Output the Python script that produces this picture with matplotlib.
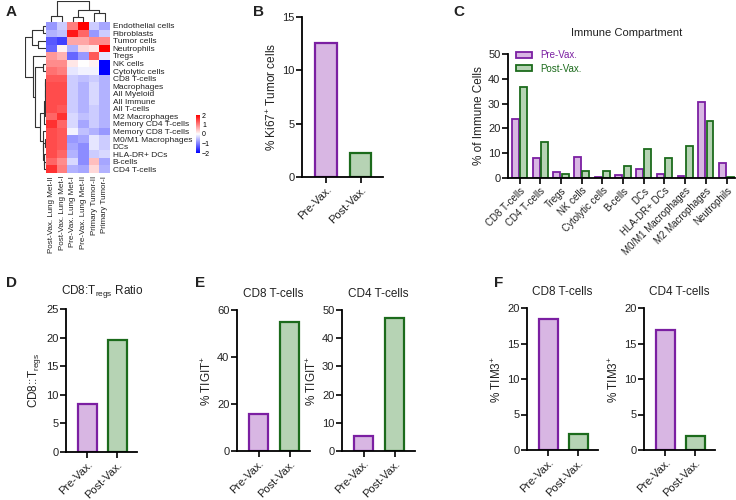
import numpy as np
import matplotlib.pyplot as plt
from matplotlib.colors import LinearSegmentedColormap
from matplotlib.patches import Patch

plt.rcParams['font.family'] = ['Liberation Sans', 'DejaVu Sans']
plt.rcParams['mathtext.default'] = 'regular'

W, H = 736, 500
PURPLE = '#7b1fa2'
PURPLE_FILL = '#d8b6e3'
GREEN = '#1c6b1c'
GREEN_FILL = '#b6d3b4'
TXT = '#222222'

# ---- panel A: heatmap (z-scores) ----
hm_rows = ['Endothelial cells', 'Fibroblasts', 'Tumor cells', 'Neutrophils', 'Tregs',
           'NK cells', 'Cytolytic cells', 'CD8 T-cells', 'Macrophages', 'All Myeloid',
           'All Immune', 'All T-cells', 'M2 Macrophages', 'Memory CD4 T-cells',
           'Memory CD8 T-cells', 'M0/M1 Macrophages', 'DCs', 'HLA-DR+ DCs', 'B-cells',
           'CD4 T-cells']
hm_cols = ['Post-Vax. Lung Met-II', 'Post-Vax. Lung Met-I', 'Pre-Vax. Lung Met-I',
           'Pre-Vax. Lung Met-II', 'Primary Tumor-II', 'Primary Tumor-I']
hm_values = [
    [-0.8, -0.4, 1.0, 2.0, -0.4, -0.7],
    [-0.6, -0.5, 1.8, 1.2, -0.8, -0.4],
    [-1.3, -1.5, 0.7, 0.7, 0.9, 0.9],
    [-1.2, 0.1, -0.6, 0.3, 0.2, 2.0],
    [0.8, 0.6, -1.2, -0.8, 1.3, -0.2],
    [0.9, 0.9, 0.2, 0.0, 0.1, -2.0],
    [1.1, 1.0, -0.2, -0.1, -0.1, -2.0],
    [1.3, 1.3, -0.4, -0.5, -0.4, -0.6],
    [1.4, 1.4, -0.4, -0.6, -0.3, -0.6],
    [1.4, 1.4, -0.4, -0.6, -0.3, -0.6],
    [1.4, 1.4, -0.4, -0.6, -0.3, -0.6],
    [1.4, 1.3, -0.4, -0.6, -0.4, -0.6],
    [1.2, 1.6, -0.3, -0.5, -0.4, -0.6],
    [1.6, 1.2, -0.3, -0.7, -0.4, -0.6],
    [1.4, 1.3, -0.1, -0.5, -0.6, -0.8],
    [1.4, 1.3, -0.8, -0.7, -0.2, -0.4],
    [1.4, 1.3, -0.7, -0.9, -0.2, -0.4],
    [1.4, 1.2, -0.6, -0.9, -0.4, -0.3],
    [1.2, 0.9, -0.3, -0.9, 0.5, -0.7],
    [1.6, 1.0, -0.6, -0.7, 0.3, -0.6],
]
# dendrograms as nested (left, right, height); leaves are row/column indices
col_tree = ((0, 1, 0.29), ((2, 3, 0.25), (4, 5, 0.45), 0.57), 1.0)
row_big_a = (((((7, 8, 0.03), (9, 10, 0.02), 0.05), (11, 12, 0.04), 0.07), 13, 0.1))
row_big_b = (14, ((15, 16, 0.05), (17, (18, 19, 0.08), 0.1), 0.13), 0.16)
row_tree = (((0, 1, 0.14), (2, 3, 0.38), 0.67),
            (4, ((5, 6, 0.14), (row_big_a, row_big_b, 0.28), 0.52), 0.62), 1.0)

# ---- panel B ----
groups = ['Pre-Vax.', 'Post-Vax.']
ki67 = [12.6, 2.25]

# ---- panel C ----
immune_cats = ['CD8 T-cells', 'CD4 T-cells', 'Tregs', 'NK cells', 'Cytolytic cells',
               'B-cells', 'DCs', 'HLA-DR+ DCs', 'M0/M1 Macrophages', 'M2 Macrophages',
               'Neutrophils']
immune_pre = [23.7, 8.2, 2.6, 8.3, 0.4, 1.3, 3.7, 1.7, 0.9, 30.7, 6.0]
immune_post = [36.5, 14.4, 1.8, 3.0, 2.9, 5.0, 11.5, 8.0, 12.8, 23.0, 0.6]

# ---- panels D, E, F ----
cd8_treg_ratio = [8.4, 19.6]
tigit_cd8 = [15.8, 54.8]
tigit_cd4 = [5.2, 47.0]
tim3_cd8 = [18.4, 2.3]
tim3_cd4 = [16.9, 2.0]

fig = plt.figure(figsize=(W / 100, H / 100), dpi=100)


def box(l, t, r, b):
    return fig.add_axes([l / W, 1 - b / H, (r - l) / W, (b - t) / H])


def ftext(x, y, s, **kw):
    fig.text(x / W, 1 - y / H, s, color=kw.pop('color', TXT), **kw)


def style(ax):
    for s in ['top', 'right']:
        ax.spines[s].set_visible(False)
    for s in ['left', 'bottom']:
        ax.spines[s].set_linewidth(1.3)
    ax.tick_params(width=1.2, length=4, labelsize=8, pad=1.5, labelcolor=TXT)


def dendro(ax, node, vertical):
    if isinstance(node, int):
        return node, 0.0
    left, right, h = node
    lp, lh = dendro(ax, left, vertical)
    rp, rh = dendro(ax, right, vertical)
    pos = [lp, lp, rp, rp]
    hts = [lh, h, h, rh]
    if vertical:
        ax.plot(pos, hts, color='#333333', lw=0.8, solid_capstyle='butt')
    else:
        ax.plot(hts, pos, color='#333333', lw=0.8, solid_capstyle='butt')
    return (lp + rp) / 2, h


# panel A
cmap = LinearSegmentedColormap.from_list('bwr3', ['#0000ff', '#ffffff', '#ff0000'])
ax = box(46, 22, 110, 173)
im = ax.imshow(np.array(hm_values), cmap=cmap, vmin=-2, vmax=2, aspect='auto')
ax.set_yticks(range(len(hm_rows)))
ax.set_yticklabels(hm_rows, fontsize=6, color=TXT)
ax.yaxis.tick_right()
ax.set_xticks(range(len(hm_cols)))
ax.set_xticklabels(hm_cols, rotation=90, fontsize=5.8, color=TXT)
ax.tick_params(length=0, pad=2)
for s in ax.spines.values():
    s.set_visible(False)

axd = box(46, 1, 110, 22)
dendro(axd, col_tree, True)
axd.set_xlim(-0.5, 5.5)
axd.set_ylim(0, 1.02)
axd.axis('off')

axr = box(25, 22, 46, 173)
dendro(axr, row_tree, False)
axr.set_ylim(19.5, -0.5)
axr.set_xlim(1.02, 0)
axr.axis('off')

cax = box(196, 115, 200, 153)
cb = fig.colorbar(im, cax=cax, ticks=[-2, -1, 0, 1, 2])
cb.outline.set_visible(False)
cax.tick_params(labelsize=5, length=0, pad=1.5)

ftext(6, 12, 'A', fontsize=11, fontweight='bold', va='center')


def bar_pair(l, t, r, b, vals, ymax, step, ylabel, title=None):
    ax = box(l, t, r, b)
    x = np.arange(len(groups))
    ax.bar(x, vals, width=0.62, color=[PURPLE_FILL, GREEN_FILL],
           edgecolor=[PURPLE, GREEN], linewidth=1.6)
    ax.set_xlim(-0.7, 1.65)
    ax.set_ylim(0, ymax)
    ax.set_yticks(np.arange(0, ymax + step / 2, step))
    ax.set_xticks(x)
    ax.set_xticklabels(groups, rotation=45, ha='right', rotation_mode='anchor')
    style(ax)
    ax.set_ylabel(ylabel, fontsize=8.5, labelpad=2, color=TXT)
    if title:
        ftext((l + r) / 2, t - 16, title, fontsize=8.5, ha='center', va='center')
    return ax


# panel B
bar_pair(302, 17, 383, 177, ki67, 15, 5, '% Ki67$^{+}$ Tumor cells')
ftext(253, 12, 'B', fontsize=11, fontweight='bold', va='center')

# panel C
ax = box(508, 54, 735, 178)
x = np.arange(len(immune_cats))
ax.bar(x - 0.2, immune_pre, width=0.33, color=PURPLE_FILL, edgecolor=PURPLE, linewidth=1.3)
ax.bar(x + 0.2, immune_post, width=0.33, color=GREEN_FILL, edgecolor=GREEN, linewidth=1.3)
ax.set_xlim(-0.56, 10.41)
ax.set_ylim(0, 50)
ax.set_yticks(range(0, 51, 10))
ax.set_xticks(x)
ax.set_xticklabels(immune_cats, rotation=45, ha='right', rotation_mode='anchor')
style(ax)
ax.tick_params(axis='x', labelsize=7)
ax.set_ylabel('% of Immune Cells', fontsize=8.5, labelpad=2, color=TXT)
handles = [Patch(facecolor=PURPLE_FILL, edgecolor=PURPLE, lw=1.3, label='Pre-Vax.'),
           Patch(facecolor=GREEN_FILL, edgecolor=GREEN, lw=1.3, label='Post-Vax.')]
ax.legend(handles=handles, loc='upper left', bbox_to_anchor=(0.02, 1.06), frameon=False,
          fontsize=7, labelcolor=[PURPLE, GREEN], handlelength=1.6, handleheight=0.55,
          borderaxespad=0, labelspacing=0.35)
ftext(627, 33, 'Immune Compartment', fontsize=8, ha='center', va='center')
ftext(453, 12, 'C', fontsize=11, fontweight='bold', va='center')

# panel D
bar_pair(66, 309, 137, 452, cd8_treg_ratio, 25, 5, 'CD8::T$_{regs}$')
ftext(102, 292, 'CD8:T$_{regs}$ Ratio', fontsize=8.5, ha='center', va='center')
ftext(6, 283, 'D', fontsize=11, fontweight='bold', va='center')

# panel E
bar_pair(237, 310, 310, 451, tigit_cd8, 60, 20, '% TIGIT$^{+}$', 'CD8 T-cells')
bar_pair(342, 310, 415, 451, tigit_cd4, 50, 10, '% TIGIT$^{+}$', 'CD4 T-cells')
ftext(195, 283, 'E', fontsize=11, fontweight='bold', va='center')

# panel F
bar_pair(527, 308, 598, 450, tim3_cd8, 20, 5, '% TIM3$^{+}$', 'CD8 T-cells')
bar_pair(644, 308, 715, 450, tim3_cd4, 20, 5, '% TIM3$^{+}$', 'CD4 T-cells')
ftext(494, 283, 'F', fontsize=11, fontweight='bold', va='center')

fig.savefig('out.png', dpi=100)
